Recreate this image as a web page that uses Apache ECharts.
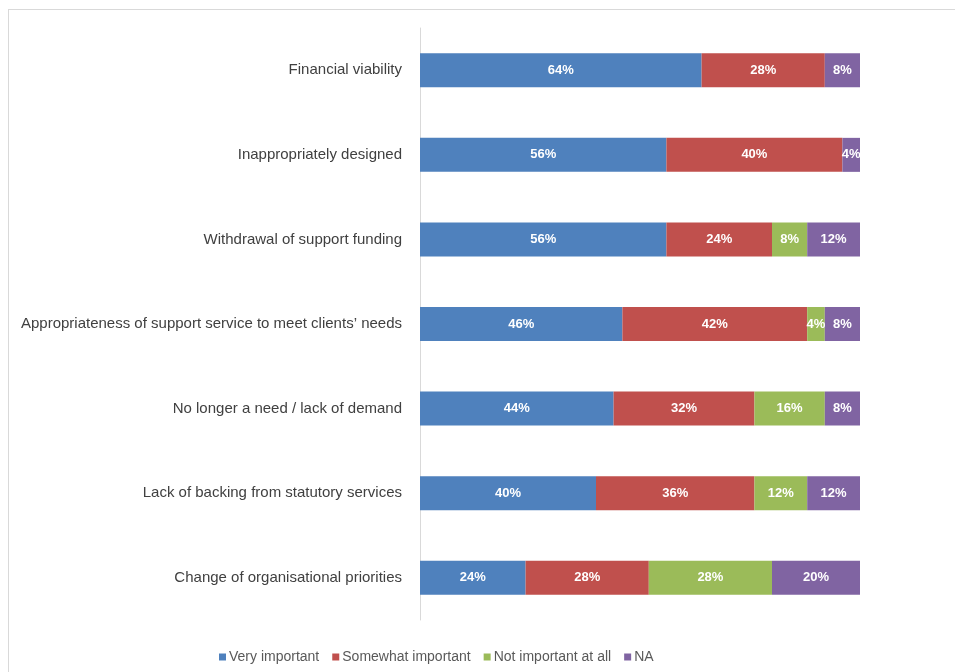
<!DOCTYPE html>
<html>
<head>
<meta charset="utf-8">
<script src="https://cdn.jsdelivr.net/npm/echarts@6/dist/echarts.min.js"></script>
<style>
html,body{margin:0;padding:0;background:#fff;overflow:hidden;}
#frame{position:absolute;left:8px;top:9px;width:960px;height:700px;border:1px solid #d9d9d9;box-sizing:border-box;}
#main{position:absolute;left:0;top:0;width:955px;height:672px;}
</style>
</head>
<body>
<div id="frame"></div>
<div id="main"></div>
<script>
const categories = [
  "Financial viability",
  "Inappropriately designed",
  "Withdrawal of support funding",
  "Appropriateness of support service to meet clients\u2019 needs",
  "No longer a need / lack of demand",
  "Lack of backing from statutory services",
  "Change of organisational priorities"
];
const seriesNames = ["Very important", "Somewhat important", "Not important at all", "NA"];
const veryImportant = [64, 56, 56, 46, 44, 40, 24];
const somewhatImportant = [28, 40, 24, 42, 32, 36, 28];
const notImportant = [0, 0, 8, 4, 16, 12, 28];
const na = [8, 4, 12, 8, 8, 12, 20];
const colors = ["#4F81BD", "#C0504D", "#9BBB59", "#8064A2"];

const allData = [veryImportant, somewhatImportant, notImportant, na];
const font = "'Liberation Sans', Arial, sans-serif";

const chart = echarts.init(document.getElementById('main'));
chart.setOption({
  animation: false,
  color: colors,
  grid: {left: 420, right: 95, top: 28, bottom: 52, containLabel: false},
  legend: {
    bottom: 3,
    left: 214,
    itemWidth: 7,
    itemHeight: 7,
    itemGap: 13,
    icon: 'rect',
    textStyle: {color: '#595959', fontSize: 14, fontFamily: font, padding: [0,0,0,-2]},
    data: seriesNames
  },
  xAxis: {
    type: 'value', min: 0, max: 100, show: false
  },
  yAxis: {
    type: 'category',
    inverse: true,
    data: categories,
    axisLine: {show: true, lineStyle: {color: '#d9d9d9'}},
    axisTick: {show: false},
    axisLabel: {color: '#404040', fontSize: 15, fontFamily: font, margin: 18}
  },
  series: allData.map((d, i) => ({
    name: seriesNames[i],
    type: 'bar',
    stack: 'total',
    barWidth: 34,
    data: d.map(v => v === 0 ? null : v),
    itemStyle: {color: colors[i]},
    label: {
      show: true,
      position: 'inside',
      color: '#fff',
      fontWeight: 'bold',
      fontSize: 13,
      fontFamily: font,
      formatter: p => p.value + '%'
    }
  }))
});
</script>
</body>
</html>
